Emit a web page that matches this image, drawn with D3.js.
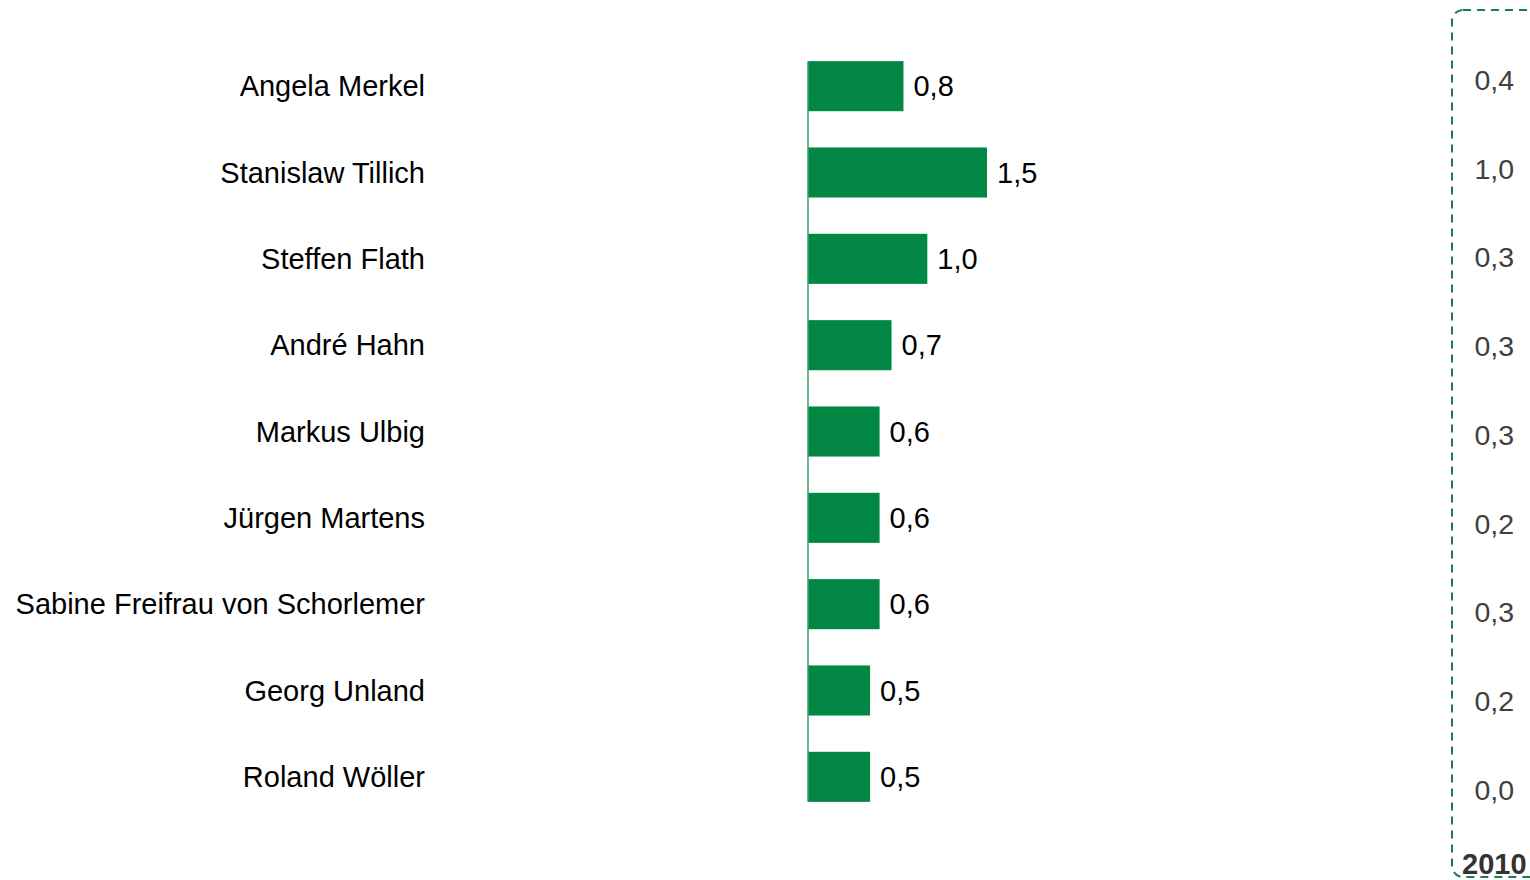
<!DOCTYPE html>
<html>
<head>
<meta charset="utf-8">
<script src="https://cdn.jsdelivr.net/npm/d3@7"></script>
<style>
  body { margin: 0; background: #fff; }
  svg { display: block; font-family: "Liberation Sans", Arial, sans-serif; }
</style>
</head>
<body>
<div id="chart"></div>
<script>
// names and values
let names = [
  "Angela Merkel",
  "Stanislaw Tillich",
  "Steffen Flath",
  "André Hahn",
  "Markus Ulbig",
  "Jürgen Martens",
  "Sabine Freifrau von Schorlemer",
  "Georg Unland",
  "Roland Wöller",
];
let values = [0.8, 1.5, 1.0, 0.7, 0.6, 0.6, 0.6, 0.52, 0.52];
// comparison column (2010)
let values2010 = [0.4, 1.0, 0.3, 0.3, 0.3, 0.2, 0.3, 0.2, 0.0];
let yearLabel = "2010";

const width = 1530, height = 880;
const green = "#038745";
const fmt = (v) => d3.format(".1f")(v).replace(".", ",");

var svg = d3
  .select("#chart")
  .append("svg")
  .attr("width", width)
  .attr("height", height);

var x = d3.scaleLinear().domain([0, 1.5]).range([808, 987]);

var y = d3
  .scaleBand()
  .domain(names)
  .range([43, 820])
  .paddingInner(0.42)
  .paddingOuter(0.21);

// bars
svg
  .selectAll("rect.bar")
  .data(values)
  .join("rect")
  .attr("class", "bar")
  .attr("x", x(0))
  .attr("y", (d, i) => y(names[i]))
  .attr("width", (d) => x(d) - x(0))
  .attr("height", y.bandwidth())
  .style("fill", green);

// baseline
svg
  .append("line")
  .attr("x1", x(0))
  .attr("x2", x(0))
  .attr("y1", y(names[0]))
  .attr("y2", y(names[names.length - 1]) + y.bandwidth())
  .style("stroke", "#3aa36a")
  .style("stroke-width", 1.5);

// category labels
svg
  .selectAll("text.name")
  .data(names)
  .join("text")
  .attr("class", "name")
  .attr("x", 425)
  .attr("y", (d) => y(d) + y.bandwidth() / 2)
  .attr("dy", "0.35em")
  .attr("text-anchor", "end")
  .style("font-size", "29px")
  .style("fill", "#000")
  .text((d) => d);

// value labels
svg
  .selectAll("text.val")
  .data(values)
  .join("text")
  .attr("class", "val")
  .attr("x", (d) => x(d) + 10)
  .attr("y", (d, i) => y(names[i]) + y.bandwidth() / 2)
  .attr("dy", "0.35em")
  .style("font-size", "29px")
  .style("fill", "#000")
  .text((d) => fmt(d));

// 2010 column
svg
  .append("rect")
  .attr("x", 1452)
  .attr("y", 10)
  .attr("width", 120)
  .attr("height", 867)
  .attr("rx", 11)
  .style("fill", "none")
  .style("stroke", "#1c7a5c")
  .style("stroke-width", 2)
  .style("stroke-dasharray", "8,6");

var y2 = d3.scalePoint().domain(names).range([80, 790]);

svg
  .selectAll("text.v2010")
  .data(values2010)
  .join("text")
  .attr("class", "v2010")
  .attr("x", 1514)
  .attr("y", (d, i) => y2(names[i]))
  .attr("dy", "0.35em")
  .attr("text-anchor", "end")
  .style("font-size", "28.5px")
  .style("fill", "#404040")
  .text((d) => fmt(d));

svg
  .append("text")
  .attr("x", 1462)
  .attr("y", 874)
  .style("font-size", "29px")
  .style("font-weight", "700")
  .style("fill", "#333")
  .text(yearLabel);
</script>
</body>
</html>
